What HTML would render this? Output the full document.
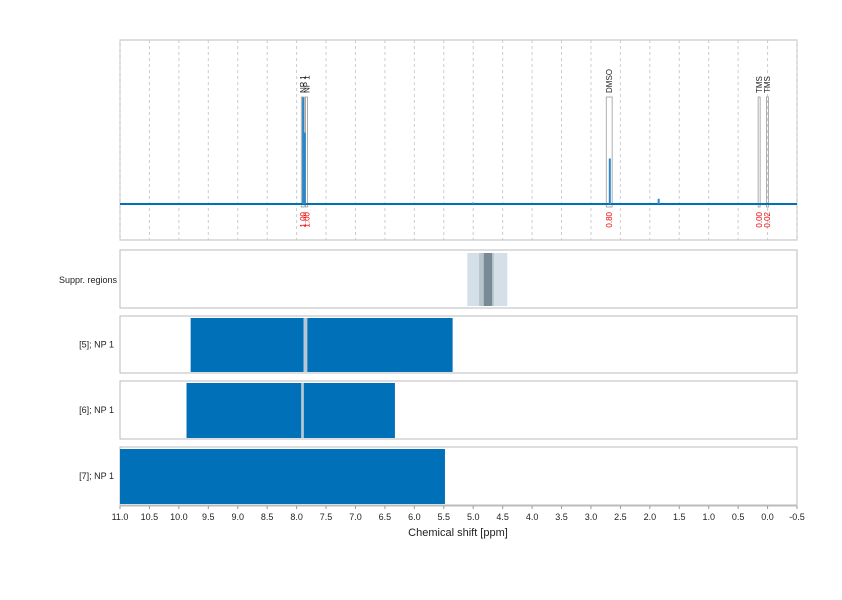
<!DOCTYPE html>
<html><head><meta charset="utf-8"><style>
body{margin:0;background:#fff;font-family:"Liberation Sans",sans-serif}
svg text{font-family:"Liberation Sans",sans-serif}
</style></head><body>
<svg id="c" width="842" height="595" xmlns="http://www.w3.org/2000/svg"></svg>
<script>
const ticks=[11,10.5,10,9.5,9,8.5,8,7.5,7,6.5,6,5.5,5,4.5,4,3.5,3,2.5,2,1.5,1,0.5,0,-0.5];
const annLabels=["NP 1","NP 1","DMSO","TMS","TMS"];
const annFrom=[7.92,7.85,2.74,0.16,0.02];
const annTo=[7.87,7.82,2.64,0.13,0.0];
const annValues=["1.00","1.00","0.80","0.00","0.02"];
const peakPpm=[7.89,7.86,2.68,1.85,5.0];
const peakHeight=[0.82,0.55,0.35,0.04,0.01];
const supprFrom=[5.1,4.9,4.82];
const supprTo=[4.42,4.65,4.68];
const supprColor=["#d5dfe7","#b5c4cd","#788a94"];
const rowLabels=["[5]; NP 1","[6]; NP 1","[7]; NP 1"];
const rowFrom=[[9.8,7.82],[9.87,7.88],[11]];
const rowTo=[[7.88,5.35],[7.92,6.33],[5.48]];
const svg=document.getElementById('c');const NS="http://www.w3.org/2000/svg";
const X0=120,X1=797;const x=p=>X0+(11-p)*(X1-X0)/11.5;
function el(t,a,name,par){const e=document.createElementNS(NS,t);for(const k in a)e.setAttribute(k,a[k]);


(par||svg).appendChild(e);return e;}
// top panel
el('rect',{x:X0,y:40,width:X1-X0,height:200,fill:'#fff',stroke:'#bbb'},'spectrum-panel');
ticks.forEach(t=>{el('line',{x1:x(t),x2:x(t),y1:40,y2:240,stroke:'#ccc','stroke-dasharray':'3,3'},'grid-line');});
const BASE=204;
annLabels.forEach((l,i)=>{const a=x(annFrom[i]),b=x(annTo[i]);
el('rect',{x:a,y:97,width:Math.max(b-a,2),height:110,fill:'none',stroke:'#999','stroke-width':0.8},'annotation-box');
const t=el('text',{x:0,y:0,'font-size':8,fill:'#222',transform:`translate(${(a+b)/2+3},93) rotate(-90)`},'annotation-label');t.textContent=l;
const v=el('text',{x:0,y:0,'font-size':8,fill:'#e00','text-anchor':'end',transform:`translate(${(a+b)/2+3},212) rotate(-90)`},'integral-value');v.textContent=annValues[i];});
el('line',{x1:X0,x2:X1,y1:BASE,y2:BASE,stroke:'#0070b8','stroke-width':2},'spectrum-baseline');
peakPpm.forEach((p,i)=>{el('rect',{x:x(p)-1,y:BASE-peakHeight[i]*130,width:2,height:peakHeight[i]*130,fill:'#2b86c8'},'spectrum-peak');});
// suppr
el('rect',{x:X0,y:250,width:X1-X0,height:58,fill:'#fff',stroke:'#bbb'},'suppr-panel');
supprFrom.forEach((f,i)=>{el('rect',{x:x(f),y:253,width:x(supprTo[i])-x(f),height:53,fill:supprColor[i]},'suppr-region');});
let lt=el('text',{x:117,y:283,'font-size':9,'text-anchor':'end',fill:'#222'},'suppr-label');lt.textContent='Suppr. regions';
const rows=[[316,373],[381,439],[447,505]];
rowLabels.forEach((l,i)=>{const [y0,y1]=rows[i];
el('rect',{x:X0,y:y0,width:X1-X0,height:y1-y0,fill:'#fff',stroke:'#bbb'},'row-panel');
rowFrom[i].forEach((f,j)=>{el('rect',{x:x(f),y:y0+2,width:x(rowTo[i][j])-x(f),height:y1-y0-3,fill:'#0070b8'},'row-bar');});
if(rowFrom[i].length>1){el('rect',{x:x(rowTo[i][0]),y:y0+2,width:x(rowFrom[i][1])-x(rowTo[i][0]),height:y1-y0-3,fill:'#b8c8d2'},'row-gap');}
const t=el('text',{x:114,y:(y0+y1)/2+3,'font-size':9,'text-anchor':'end',fill:'#222'},'row-label');t.textContent=l;});
el('line',{x1:X0,x2:X1,y1:506,y2:506,stroke:'#bbb'},'x-axis');
ticks.forEach(t=>{el('line',{x1:x(t),x2:x(t),y1:506,y2:509,stroke:'#999'},'x-tick');
const tx=el('text',{x:x(t),y:520,'font-size':9,'text-anchor':'middle',fill:'#222'},'x-tick-label');tx.textContent=t.toFixed(1);});
const ti=el('text',{x:458,y:536,'font-size':11,'text-anchor':'middle',fill:'#222'},'x-axis-title');ti.textContent='Chemical shift [ppm]';
</script>
</body></html>
